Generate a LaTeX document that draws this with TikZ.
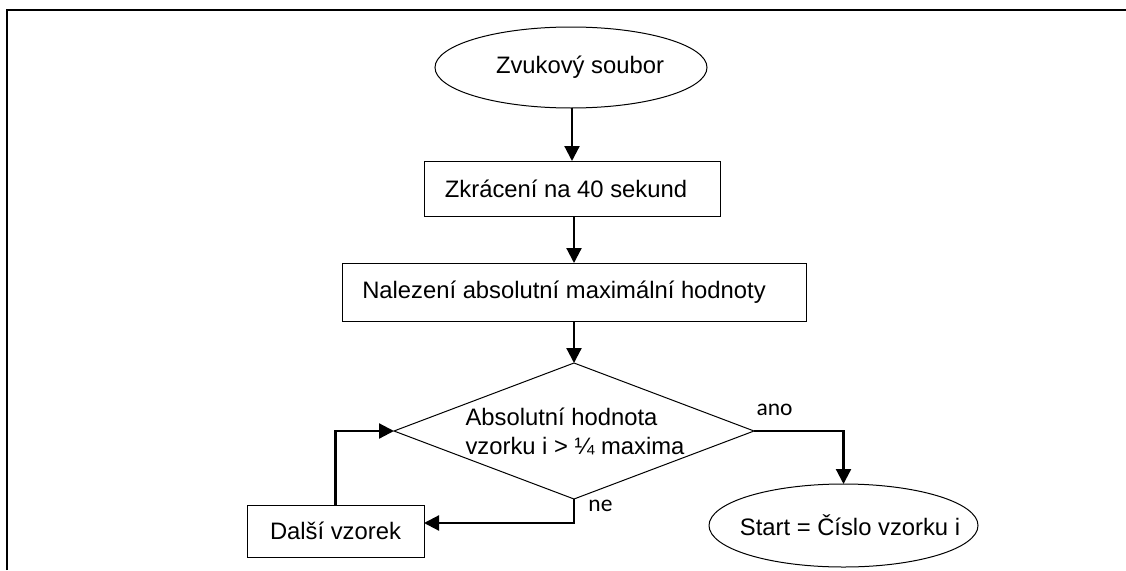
\documentclass[tikz,border=0pt]{standalone}
\usepackage{fontspec}
\setmainfont{Liberation Sans}
\newfontfamily\labfont{Carlito}
\usetikzlibrary{shapes.geometric,arrows.meta}
\begin{document}
\begin{tikzpicture}[x=1pt,y=-1pt,
  every node/.style={font=\fontsize{23.8}{29}\selectfont},
  term/.style={ellipse,draw,line width=1pt,inner sep=0pt,outer sep=0pt},
  proc/.style={rectangle,draw,line width=1pt,inner sep=0pt,outer sep=0pt},
  dec/.style={diamond,aspect=2.65,draw,line width=1pt,inner sep=0pt,outer sep=0pt},
  dtext/.style={align=left,inner sep=0pt},
  flow/.style={line width=2.2pt,-{Triangle[length=15pt,width=15pt]}},
  lab/.style={font=\labfont\fontsize{23.5}{27}\selectfont,inner sep=0pt},
  frame/.style={line width=2pt}]
\useasboundingbox (0,0) rectangle (1126,570);
% frame
\coordinate (fa) at (7,570);
\coordinate (fb) at (7,10);
\coordinate (fc) at (1126,10);
\draw[frame] (fa) -- (fb) -- (fc);
% shapes
\node[term,minimum width=272pt,minimum height=81pt] (e1) at (571,67.5) {\hspace*{18pt}Zvukový soubor};
\node[proc,minimum width=296pt,minimum height=55pt] (b1) at (572,188.5) {Zkrácení na 40 sekund\hspace*{12pt}};
\node[proc,minimum width=464pt,minimum height=58pt] (b2) at (574,292) {Nalezení absolutní maximální hodnoty\hspace*{20pt}};
\node[dec,minimum width=360pt,minimum height=136pt] (d) at (574,431) {};
\node[dtext] (dt) at (575,431.5) {Absolutní hodnota\\vzorku i > ¼ maxima};
\node[proc,minimum width=177pt,minimum height=52pt] (b3) at (335.5,531) {Další vzorek};
\node[term,minimum width=269pt,minimum height=83pt] (e2) at (843.5,525.5) {\makebox[0pt]{\hspace*{13pt}Start = Číslo vzorku i}};
% labels
\node[lab] (ano) at (774.5,410) {ano};
\node[lab] (ne) at (600.5,506) {ne};
% connectors
\draw[flow] (e1.south -| b1.north) -- (b1.north);
\draw[flow] (b1.south -| b2.north) -- (b2.north);
\draw[flow] (b2.south) -- (d.north);
\draw[flow] (d.east) -| (e2.north);
\draw[flow] (d.south) |- ([yshift=8pt]b3.east);
\draw[flow] (b3.north) |- (d.west);
\end{tikzpicture}
\end{document}
